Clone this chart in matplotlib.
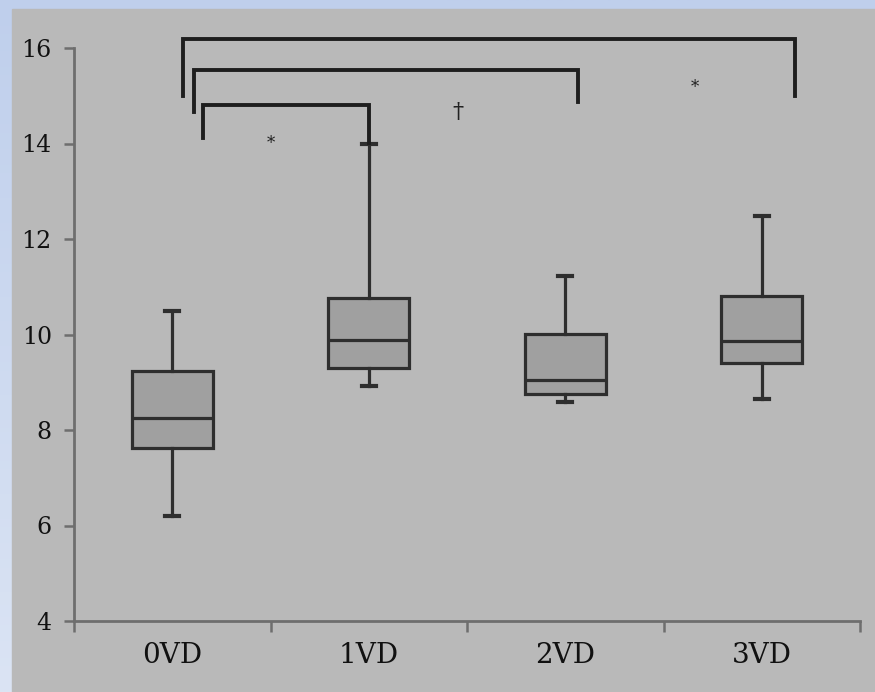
import numpy as np
import matplotlib
matplotlib.use('Agg')
import matplotlib.pyplot as plt
from matplotlib.patches import Rectangle

groups = ['0VD', '1VD', '2VD', '3VD']
whislo = [6.2, 8.92, 8.59, 8.64]
q1 = [7.62, 9.30, 8.75, 9.40]
med = [8.25, 9.88, 9.05, 9.86]
q3 = [9.24, 10.76, 10.01, 10.81]
whishi = [10.5, 14.0, 11.23, 12.49]

# significance brackets: (left, right, top, left_bottom, right_bottom)
brackets = [(0.056, 3.17, 16.19, 14.99, 14.99),
            (0.112, 2.066, 15.54, 14.66, 14.87),
            (0.158, 1.003, 14.81, 14.12, 14.01)]
marks = [('*', 0.50, 14.0), ('\u2020', 1.455, 14.66), ('*', 2.66, 15.18)]

line_color = '#2e2e2e'
axis_color = '#6e6e6e'

fig = plt.figure(figsize=(8.75, 6.92), dpi=100)

# blue frame with gradient + grey panel
bg = fig.add_axes([0, 0, 1, 1], zorder=-10)
grad = np.linspace(0, 1, 256).reshape(-1, 1)
top_c = np.array([0xbf, 0xcf, 0xec]) / 255
bot_c = np.array([0xdb, 0xe4, 0xf4]) / 255
img = top_c[None, None, :] * (1 - grad[:, :, None]) + bot_c[None, None, :] * grad[:, :, None]
bg.imshow(img, aspect='auto', extent=[0, 1, 0, 1], origin='upper')
bg.add_patch(Rectangle((12 / 875, 0), 1, 1 - 9 / 692, color='#b9b9b9', zorder=2))
bg.set_xlim(0, 1)
bg.set_ylim(0, 1)
bg.axis('off')

ax = fig.add_axes([74 / 875, 1 - 621 / 692, (860 - 74) / 875, (621 - 48) / 692])
ax.set_facecolor('none')

stats = [dict(label=g, whislo=lo, q1=a, med=m, q3=b, whishi=hi)
         for g, lo, a, m, b, hi in zip(groups, whislo, q1, med, q3, whishi)]
ax.bxp(stats, positions=range(len(groups)), widths=0.41, capwidths=0.07,
       showfliers=False, patch_artist=True,
       boxprops=dict(facecolor='#a0a0a0', edgecolor=line_color, linewidth=2.3),
       medianprops=dict(color=line_color, linewidth=2.3),
       whiskerprops=dict(color=line_color, linewidth=2.3),
       capprops=dict(color=line_color, linewidth=3))

for x0, x1, top, b0, b1 in brackets:
    ax.plot([x0, x0, x1, x1], [b0, top, top, b1], color='#1e1e1e',
            linewidth=2.8, clip_on=False, solid_joinstyle='miter')
for s, x, y in marks:
    ax.text(x, y, s, ha='center', va='center', fontsize=12 if s == '*' else 16,
            family='DejaVu Serif', color='#222222')

ax.set_xlim(-0.5, 3.5)
ax.set_ylim(4, 16)
ax.set_yticks(range(4, 17, 2))
ax.set_xticks(range(len(groups)))
ax.set_xticklabels(groups)
ax.set_xticks(np.arange(-0.5, 3.6, 1), minor=True)
ax.tick_params(axis='x', which='major', length=0, pad=15, labelsize=20)
ax.tick_params(axis='x', which='minor', length=8, width=1.8, color=axis_color, direction='out')
ax.tick_params(axis='y', length=7, width=1.8, color=axis_color, pad=9, labelsize=17)
for lab in ax.get_xticklabels() + ax.get_yticklabels():
    lab.set_family('DejaVu Serif')
    lab.set_color('#111111')
for side in ['top', 'right']:
    ax.spines[side].set_visible(False)
for side in ['left', 'bottom']:
    ax.spines[side].set_color(axis_color)
    ax.spines[side].set_linewidth(2)

fig.savefig('out.png', dpi=100)
